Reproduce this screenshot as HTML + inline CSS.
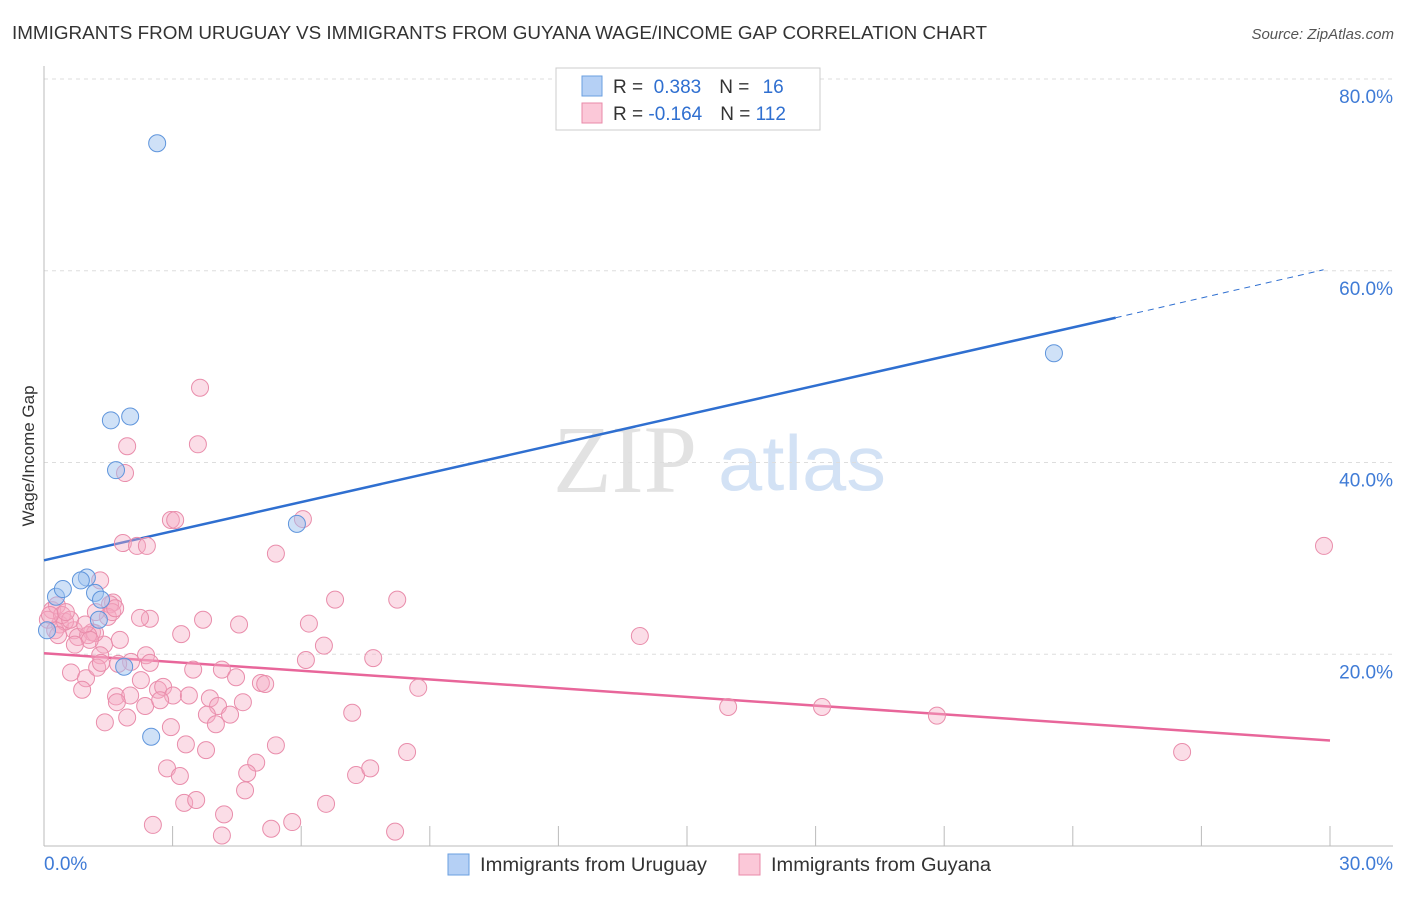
<!DOCTYPE html>
<html><head><meta charset="utf-8"><style>
body{margin:0;background:#fff;font-family:"Liberation Sans",sans-serif}
</style></head><body>
<svg id="chart" width="1406" height="892" xmlns="http://www.w3.org/2000/svg" font-family="Liberation Sans, sans-serif">
<text x="12" y="39" font-size="18" fill="#333" textLength="975" lengthAdjust="spacingAndGlyphs">IMMIGRANTS FROM URUGUAY VS IMMIGRANTS FROM GUYANA WAGE/INCOME GAP CORRELATION CHART</text>
<text x="1394" y="39" font-size="15" fill="#555" text-anchor="end" font-style="italic">Source: ZipAtlas.com</text>
<text transform="translate(34,456) rotate(-90)" font-size="17" fill="#333" text-anchor="middle">Wage/Income Gap</text>
<g>
<text x="553" y="492" font-size="96" font-family="Liberation Serif, serif" fill="#e2e2e2">ZIP</text>
<text x="718" y="490" font-size="78" fill="#d3e2f5" textLength="168" lengthAdjust="spacingAndGlyphs">atlas</text>
</g>
<g id="grid"></g><g id="axes"></g><g id="lines"></g><g id="pts"></g>
<g>
<rect x="556" y="68" width="264" height="62" fill="#fff" stroke="#ccc"/>
<rect x="582" y="76" width="20" height="20" fill="#b5d0f5" stroke="#6a9fe0"/>
<rect x="582" y="103" width="20" height="20" fill="#fbc8d8" stroke="#e88aa8"/>
<text x="613" y="93" font-size="19" fill="#333">R = <tspan fill="#2f6fd0">&#160;0.383</tspan><tspan dx="18">N = </tspan><tspan fill="#2f6fd0" dx="8">16</tspan></text>
<text x="613" y="120" font-size="19" fill="#333">R = <tspan fill="#2f6fd0">-0.164</tspan><tspan dx="18">N = </tspan><tspan fill="#2f6fd0">112</tspan></text>
</g>
<g>
<rect x="448" y="854" width="21" height="21" fill="#b5d0f5" stroke="#6a9fe0"/>
<text x="480" y="871" font-size="19" fill="#333" textLength="227" lengthAdjust="spacingAndGlyphs">Immigrants from Uruguay</text>
<rect x="739" y="854" width="21" height="21" fill="#fbc8d8" stroke="#e88aa8"/>
<text x="771" y="871" font-size="19" fill="#333" textLength="220" lengthAdjust="spacingAndGlyphs">Immigrants from Guyana</text>
</g>
</svg>
<script>
const yTicks=[20,40,60,80];
const xTickLabels=["0.0%","30.0%"];
const uruguayX=[2.64,23.56,1.56,2.01,1.68,5.90,0.28,0.44,1.00,0.86,1.19,1.33,1.28,1.87,2.50,0.07];
const uruguayY=[73.3,51.4,44.4,44.8,39.2,33.6,26.0,26.8,28.0,27.7,26.4,25.7,23.6,18.7,11.4,22.5];
const guyanaX=[3.64,3.59,1.94,1.89,2.96,3.06,6.04,1.84,2.17,2.40,5.41,29.86,1.31,6.79,8.24,1.61,1.54,1.49,1.21,2.47,3.71,6.18,4.55,13.90,3.20,1.12,1.40,6.53,1.19,0.70,0.37,0.19,0.09,0.26,0.49,0.79,1.03,1.77,1.31,2.03,2.38,2.47,6.11,7.68,0.63,0.98,1.24,1.33,1.73,3.48,4.15,4.48,2.26,5.06,5.16,8.73,0.89,1.68,2.01,2.66,2.78,3.01,3.38,3.87,4.64,1.70,2.36,4.06,7.19,15.96,18.15,20.83,1.42,1.94,2.96,3.80,4.01,3.31,3.78,5.41,8.47,26.55,4.95,2.87,3.17,4.74,7.28,7.61,3.27,3.55,4.20,4.69,6.58,2.54,4.15,5.30,5.79,8.19,0.30,0.42,0.61,0.14,0.33,0.51,0.96,1.07,0.72,1.59,2.24,1.66,2.71,4.34];
const guyanaY=[47.8,41.9,41.7,38.9,34.0,34.0,34.1,31.6,31.3,31.3,30.5,31.3,27.7,25.7,25.7,25.4,25.2,23.9,24.4,23.7,23.6,23.2,23.1,21.9,22.1,22.3,21.0,20.9,22.2,22.5,23.1,24.6,23.6,22.5,23.4,21.8,22.0,21.5,19.9,19.2,19.9,19.1,19.4,19.6,18.1,17.5,18.6,19.1,19.0,18.4,18.4,17.6,17.3,17.0,16.9,16.5,16.3,15.6,15.7,16.3,16.6,15.7,15.7,15.4,15.0,15.0,14.6,14.6,13.9,14.5,14.5,13.6,12.9,13.4,12.4,13.7,12.7,10.6,10.0,10.5,9.8,9.8,8.7,8.1,7.3,7.6,7.4,8.1,4.5,4.8,3.3,5.8,4.4,2.2,1.1,1.8,2.5,1.5,25.1,24.1,23.6,24.1,22.0,24.4,23.1,21.5,21.0,24.4,23.8,24.8,15.2,13.7];
const uruguayTrend=[29.8,55.1,60.1]; // y at x=0, x=25, x=29.85
const guyanaTrend=[20.1,11.0]; // y at x=0, x=30
const NS="http://www.w3.org/2000/svg";
const X=v=>44+v/30*1286, Y=v=>846-v*9.5875;
function mk(parent,tag,attrs){const e=document.createElementNS(NS,tag);for(const k in attrs)e.setAttribute(k,attrs[k]);document.getElementById(parent).appendChild(e);return e;}
yTicks.forEach(t=>{
 const l=mk('grid','line',{x1:44,x2:1393,y1:Y(t),y2:Y(t),stroke:'#ddd','stroke-dasharray':'4,4'});
 
 
 const tx=mk('grid','text',{x:1393,y:Y(t)+24,'font-size':19,fill:'#3f7bd6','text-anchor':'end'});
 tx.textContent=t.toFixed(1)+'%';
 
 
});
let a=mk('axes','line',{x1:44,x2:44,y1:66,y2:846,stroke:'#bbb'});


a=mk('axes','line',{x1:44,x2:1393,y1:846,y2:846,stroke:'#bbb'});


for(let i=1;i<=10;i++){const t=mk('axes','line',{x1:X(i*3),x2:X(i*3),y1:826,y2:846,stroke:'#bbb'});
 
 }
let xl=mk('axes','text',{x:44,y:870,'font-size':19,fill:'#3f7bd6'});xl.textContent=xTickLabels[0];


xl=mk('axes','text',{x:1393,y:870,'font-size':19,fill:'#3f7bd6','text-anchor':'end'});xl.textContent=xTickLabels[1];


guyanaX.forEach((v,i)=>{const c=mk('pts','circle',{cx:X(v),cy:Y(guyanaY[i]),r:8.5,fill:'rgba(246,170,196,0.4)',stroke:'#e98dab','stroke-width':1});
 
 });
uruguayX.forEach((v,i)=>{const c=mk('pts','circle',{cx:X(v),cy:Y(uruguayY[i]),r:8.5,fill:'rgba(160,196,240,0.5)',stroke:'#5f95dc','stroke-width':1});
 
 });
let ln=mk('lines','line',{x1:X(0),y1:Y(uruguayTrend[0]),x2:X(25),y2:Y(uruguayTrend[1]),stroke:'#2f6fd0','stroke-width':2.5});


ln=mk('lines','line',{x1:X(25),y1:Y(uruguayTrend[1]),x2:X(29.85),y2:Y(uruguayTrend[2]),stroke:'#2f6fd0','stroke-width':1,'stroke-dasharray':'6,5'});


ln=mk('lines','line',{x1:X(0),y1:Y(guyanaTrend[0]),x2:X(30),y2:Y(guyanaTrend[1]),stroke:'#e8669a','stroke-width':2.5});


</script>
</body></html>
